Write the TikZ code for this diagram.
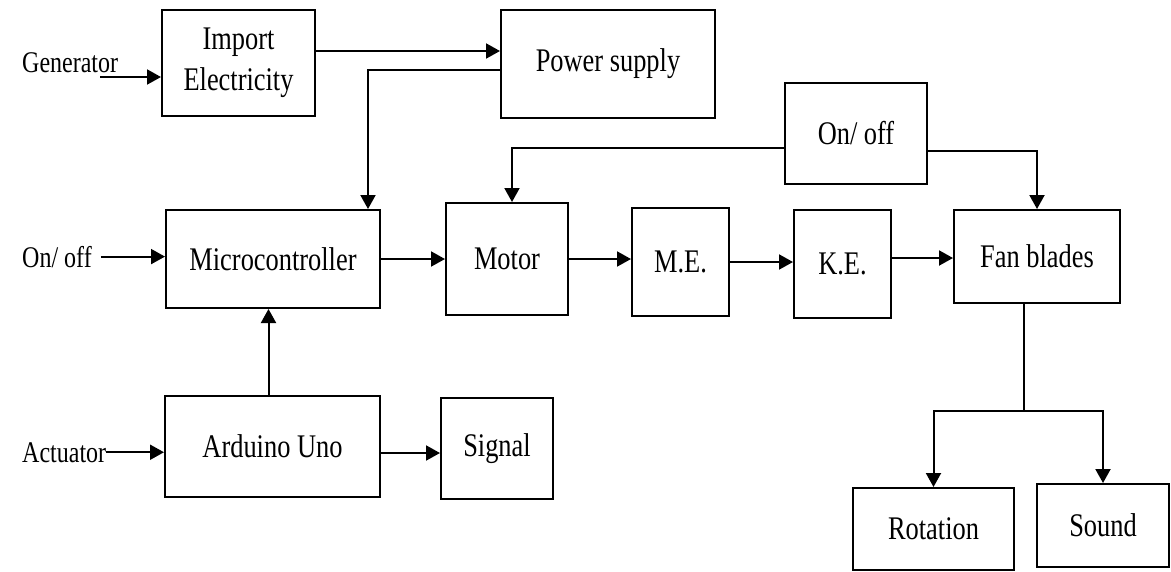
\documentclass[tikz,border=0pt]{standalone}
\usepackage{fontspec}
\setmainfont{Liberation Serif}[FakeStretch=0.8]
\usepackage{tikz}
\usetikzlibrary{arrows.meta, calc}

\begin{document}
\begin{tikzpicture}[
    x=1pt, y=-1pt,
    % Styles
    block/.style={rectangle, draw=black, line width=2pt, inner sep=0pt, align=center, font=\fontsize{33}{41}\selectfont},
    lbl/.style={inner sep=0pt, font=\fontsize{30}{36}\selectfont},
    arrow/.style={-{Triangle[length=14pt, width=15pt]}, line width=2pt, draw=black},
    line/.style={line width=2pt, draw=black}
]
\useasboundingbox (0,0) rectangle (1171,571);

% 1. TOP ROW
\node[block, minimum width=153pt, minimum height=106pt] (imp) at (238.5,63) {Import\\Electricity};
\node[block, minimum width=214pt, minimum height=108pt] (pwr) at (608,64) {Power supply};
\node[block, minimum width=142pt, minimum height=101pt] (sw) at (856,133.5) {On/ off};

% 2. MIDDLE ROW
\node[block, minimum width=214pt, minimum height=98pt] (mc) at (273,259) {Microcontroller};
\node[block, minimum width=122pt, minimum height=112pt] (motor) at (507,259) {Motor};
\node[block, minimum width=97pt, minimum height=108pt] (me) at (680.5,262) {M.E.};
\node[block, minimum width=97pt, minimum height=108pt] (ke) at (842.5,264) {K.E.};
\node[block, minimum width=166pt, minimum height=93pt] (fan) at (1037,256.5) {Fan blades};

% 3. BOTTOM ROW
\node[block, minimum width=215pt, minimum height=101pt] (ard) at (272.5,446.5) {Arduino Uno};
\node[block, minimum width=112pt, minimum height=101pt] (sig) at (497,448.5) {Signal};
\node[block, minimum width=161pt, minimum height=82pt] (rot) at (933.5,529) {Rotation};
\node[block, minimum width=132pt, minimum height=83pt] (snd) at (1103,525.5) {Sound};

% INPUTS
\node[lbl, anchor=base west] (gen) at (22,72) {Generator};
\node[lbl, anchor=base west] (onL) at (22,267) {On/ off};
\node[lbl, anchor=base west] (act) at (22,462) {Actuator};

% HELPER POINTS
\coordinate (genOut) at (100,77);
\coordinate (onOut) at ([xshift=9pt]onL.east);
\coordinate (impOut) at ([yshift=12pt]imp.east);
\coordinate (keOut) at ([yshift=6pt]ke.east);
\coordinate (ardUp) at ([xshift=-4pt]ard.north);
\coordinate (ardOut) at ([yshift=-6.5pt]ard.east);
\coordinate (split) at (1024,411);

% CONNECTING ARROWS
\draw[arrow] (genOut) -- (genOut -| imp.west);
\draw[arrow] (onOut) -- (onOut -| mc.west);
\draw[arrow] (act.east) -- (act.east -| ard.west);

\draw[arrow] (impOut) -- (impOut -| pwr.west);
\draw[arrow] ([yshift=-6pt]pwr.west) -| ([xshift=95pt]mc.north);

\draw[arrow] ([yshift=-14.5pt]sw.west) -| ([xshift=5pt]motor.north);
\draw[arrow] ([yshift=-17.5pt]sw.east) -| (fan.north);

\draw[arrow] (mc.east) -- (motor.west);
\draw[arrow] (motor.east) -- (motor.east -| me.west);
\draw[arrow] (me.east) -- (me.east -| ke.west);
\draw[arrow] (keOut) -- (keOut -| fan.west);

\draw[arrow] (ardUp) -- (ardUp |- mc.south);
\draw[arrow] (ardOut) -- (ardOut -| sig.west);

\draw[line] (fan.south -| split) -- (split);
\draw[arrow] (split) -| (rot.north);
\draw[arrow] (split) -| (snd.north);

\end{tikzpicture}
\end{document}
